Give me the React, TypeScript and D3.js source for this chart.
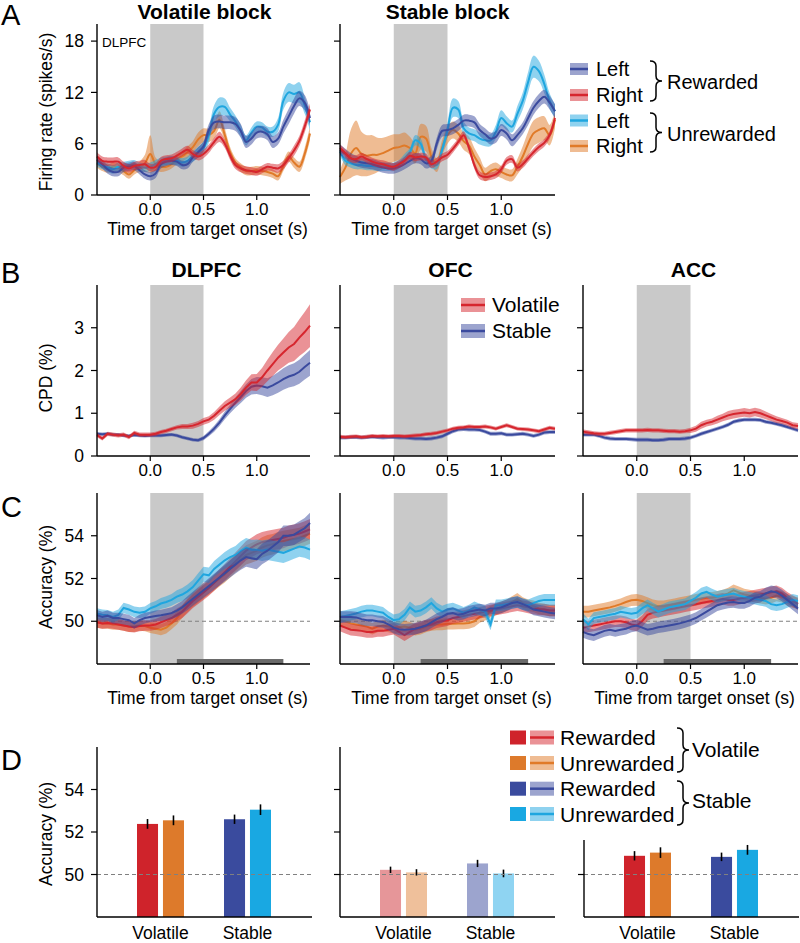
import React from "react";
import * as d3 from "d3";

const FONT = "'Liberation Sans', Arial, Helvetica, sans-serif";

const BLUE = "#3a4a9e";
const RED = "#d6262e";
const CYAN = "#1fa6df";
const ORANGE = "#e07a28";
const BAR_SOLID = ["#cf232b", "#dd7a2b", "#3a4b9e", "#19a8e2"];
const BAR_PALE = ["#e69699", "#efc09b", "#9ca4ce", "#8fd4f2"];

// sample times (s from target onset)
const times = [-0.5, -0.45, -0.4, -0.35, -0.3, -0.25, -0.2, -0.15, -0.1, -0.05, 0, 0.05, 0.1, 0.15, 0.2, 0.25, 0.3, 0.35, 0.4, 0.45, 0.5, 0.55, 0.6, 0.65, 0.7, 0.75, 0.8, 0.85, 0.9, 0.95, 1, 1.05, 1.1, 1.15, 1.2, 1.25, 1.3, 1.35, 1.4, 1.45, 1.5];

// ---- A: firing rate, volatile block ----
const volLeftRew = [4.1, 3.6, 3.0, 2.7, 2.7, 3.2, 3.3, 3.4, 2.9, 2.4, 2.2, 2.5, 3.6, 3.9, 4.0, 3.9, 3.5, 3.6, 4.4, 5.0, 5.7, 7.6, 8.5, 8.6, 8.5, 8.5, 8.3, 7.5, 6.2, 6.6, 7.3, 7.4, 7.1, 6.2, 6.6, 8.0, 9.2, 10.4, 11.3, 10.8, 9.0];
const volRightRew = [4.5, 4.0, 3.9, 3.9, 3.9, 3.4, 3.1, 3.4, 3.5, 3.6, 3.2, 3.3, 4.0, 4.2, 4.3, 4.6, 5.0, 5.3, 4.8, 4.5, 4.8, 5.4, 6.2, 6.8, 6.0, 4.6, 3.5, 3.1, 2.9, 2.8, 2.7, 3.0, 3.3, 3.2, 3.1, 3.5, 4.3, 5.2, 6.3, 8.0, 10.0];
const volLeftUnrew = [3.8, 3.5, 3.2, 3.0, 3.3, 3.4, 3.5, 3.6, 3.3, 3.2, 3.3, 3.6, 3.9, 4.0, 4.1, 4.0, 3.8, 4.0, 4.5, 5.0, 5.5, 7.0, 9.5, 10.3, 10.3, 9.4, 8.6, 7.5, 6.4, 7.3, 8.0, 7.9, 7.4, 7.4, 8.2, 11.0, 12.0, 11.8, 12.0, 10.5, 8.5];
const volRightUnrew = [3.7, 3.3, 3.1, 3.3, 3.2, 2.8, 2.4, 2.9, 3.3, 3.7, 4.8, 3.6, 3.3, 3.3, 3.6, 4.2, 4.5, 5.0, 5.6, 6.5, 7.0, 7.0, 7.5, 8.8, 7.0, 5.0, 3.8, 3.2, 2.8, 2.8, 2.9, 2.8, 2.7, 2.5, 2.2, 3.4, 4.5, 3.8, 3.3, 4.8, 7.2];
const semVolLeftRew = [0.5, 0.5, 0.5, 0.5, 0.5, 0.5, 0.5, 0.5, 0.5, 0.5, 0.5, 0.5, 0.5, 0.5, 0.5, 0.5, 0.5, 0.5, 0.5, 0.6, 0.6, 0.7, 0.8, 0.8, 0.8, 0.8, 0.8, 0.8, 0.7, 0.7, 0.7, 0.7, 0.7, 0.7, 0.7, 0.8, 0.9, 0.9, 0.9, 0.9, 0.9];
const semVolRightRew = [0.5, 0.5, 0.5, 0.5, 0.5, 0.5, 0.5, 0.5, 0.5, 0.5, 0.45, 0.45, 0.45, 0.45, 0.45, 0.45, 0.45, 0.45, 0.45, 0.45, 0.5, 0.5, 0.5, 0.6, 0.5, 0.5, 0.45, 0.45, 0.45, 0.45, 0.45, 0.45, 0.45, 0.45, 0.5, 0.5, 0.5, 0.6, 0.6, 0.7, 0.7];
const semVolLeftUnrew = [0.5, 0.5, 0.5, 0.5, 0.5, 0.5, 0.5, 0.5, 0.5, 0.5, 0.5, 0.5, 0.5, 0.5, 0.5, 0.5, 0.5, 0.5, 0.6, 0.6, 0.7, 0.9, 1.0, 1.1, 1.0, 0.8, 0.7, 0.7, 0.6, 0.6, 0.6, 0.6, 0.6, 0.6, 0.8, 1.0, 1.1, 1.1, 1.2, 1.0, 0.9];
const semVolRightUnrew = [0.5, 0.5, 0.5, 0.5, 0.5, 0.5, 0.5, 0.5, 0.6, 1.0, 2.2, 0.8, 0.6, 0.5, 0.5, 0.6, 0.6, 0.7, 0.7, 0.8, 0.8, 0.8, 0.9, 1.0, 0.8, 0.6, 0.5, 0.5, 0.5, 0.5, 0.5, 0.5, 0.5, 0.5, 0.5, 0.6, 0.6, 0.6, 0.6, 0.7, 0.8];

// ---- A: firing rate, stable block ----
const stbLeftRew = [5.3, 4.8, 4.3, 4.0, 3.8, 3.7, 3.6, 3.4, 3.2, 3.1, 3.1, 3.3, 3.6, 4.0, 4.3, 4.2, 3.7, 4.0, 6.0, 7.5, 7.6, 7.8, 8.2, 8.7, 8.7, 8.5, 7.6, 7.1, 6.6, 6.8, 7.6, 7.2, 6.4, 7.0, 7.8, 9.0, 10.2, 11.0, 11.5, 10.8, 9.8];
const stbRightRew = [5.5, 4.9, 4.3, 4.2, 4.5, 4.2, 3.9, 3.7, 3.6, 3.4, 3.3, 3.6, 4.0, 4.6, 4.4, 4.5, 4.4, 3.6, 3.9, 4.4, 4.7, 5.4, 6.2, 7.0, 5.5, 3.5, 2.3, 2.1, 2.2, 2.4, 3.0, 4.0, 4.2, 3.2, 3.6, 4.3, 5.0, 5.6, 6.1, 7.0, 9.0];
const stbLeftUnrew = [5.1, 4.0, 3.7, 3.5, 3.5, 3.4, 3.4, 3.3, 3.3, 3.3, 3.3, 3.6, 4.3, 5.0, 6.4, 6.0, 4.2, 3.6, 3.5, 5.3, 7.6, 10.2, 10.0, 7.8, 7.2, 7.0, 6.6, 6.4, 6.4, 7.4, 9.0, 8.4, 8.0, 9.5, 11.0, 13.2, 15.0, 14.5, 13.0, 11.0, 9.8];
const stbRightUnrew = [2.1, 3.2, 4.8, 5.5, 4.8, 4.6, 4.7, 4.7, 4.9, 5.2, 5.5, 5.6, 5.8, 5.5, 4.9, 6.8, 6.6, 4.5, 3.5, 5.5, 7.0, 7.6, 7.2, 6.3, 5.8, 4.5, 3.5, 2.4, 2.8, 3.0, 2.7, 2.4, 2.3, 3.3, 4.5, 6.0, 7.2, 7.6, 7.8, 7.0, 8.8];
const semStbLeftRew = [0.6, 0.6, 0.6, 0.6, 0.6, 0.6, 0.6, 0.6, 0.6, 0.6, 0.6, 0.6, 0.6, 0.6, 0.6, 0.6, 0.6, 0.6, 0.7, 0.7, 0.7, 0.7, 0.7, 0.7, 0.7, 0.7, 0.7, 0.7, 0.7, 0.7, 0.7, 0.7, 0.7, 0.7, 0.7, 0.8, 0.8, 0.8, 0.8, 0.8, 0.8];
const semStbRightRew = 0.45;
const semStbLeftUnrew = [0.5, 0.5, 0.5, 0.5, 0.5, 0.5, 0.5, 0.5, 0.5, 0.5, 0.5, 0.5, 0.5, 0.5, 0.6, 0.6, 0.5, 0.5, 0.5, 0.6, 0.8, 1.1, 1.0, 0.8, 0.7, 0.7, 0.7, 0.7, 0.7, 0.8, 0.9, 0.8, 0.7, 0.9, 1.0, 1.2, 1.3, 1.2, 1.1, 0.9, 0.8];
const semStbRightUnrew = [0.8, 1.5, 2.8, 3.2, 2.6, 2.4, 2.3, 2.0, 1.8, 1.7, 1.6, 1.5, 1.5, 1.3, 1.2, 1.5, 1.5, 1.0, 0.8, 0.9, 1.0, 1.0, 1.0, 1.0, 1.0, 1.0, 0.9, 0.8, 0.8, 0.8, 0.7, 0.7, 0.7, 0.9, 1.2, 1.4, 1.5, 1.5, 1.4, 1.2, 1.0];

// ---- B: CPD (%) ----
const cpdDlpfcVol = [0.49, 0.41, 0.52, 0.5, 0.48, 0.5, 0.44, 0.54, 0.5, 0.5, 0.5, 0.52, 0.56, 0.59, 0.63, 0.67, 0.69, 0.69, 0.71, 0.75, 0.81, 0.85, 0.94, 1.06, 1.17, 1.25, 1.33, 1.45, 1.6, 1.72, 1.72, 1.84, 2.0, 2.15, 2.3, 2.42, 2.54, 2.62, 2.77, 2.9, 3.05];
const cpdDlpfcStb = [0.52, 0.51, 0.52, 0.5, 0.5, 0.48, 0.47, 0.49, 0.48, 0.47, 0.48, 0.48, 0.48, 0.49, 0.5, 0.48, 0.44, 0.41, 0.38, 0.37, 0.42, 0.52, 0.64, 0.78, 0.95, 1.1, 1.25, 1.38, 1.52, 1.62, 1.65, 1.63, 1.6, 1.65, 1.72, 1.8, 1.86, 1.9, 1.97, 2.08, 2.18];
const semCpdDlpfcVol = [0.05, 0.05, 0.05, 0.05, 0.05, 0.05, 0.05, 0.05, 0.05, 0.05, 0.05, 0.05, 0.05, 0.05, 0.05, 0.05, 0.06, 0.06, 0.07, 0.07, 0.08, 0.08, 0.09, 0.1, 0.11, 0.12, 0.13, 0.15, 0.17, 0.19, 0.2, 0.22, 0.25, 0.28, 0.3, 0.33, 0.36, 0.4, 0.43, 0.47, 0.5];
const semCpdDlpfcStb = [0.04, 0.04, 0.04, 0.04, 0.04, 0.04, 0.04, 0.04, 0.04, 0.04, 0.04, 0.04, 0.04, 0.04, 0.04, 0.04, 0.04, 0.04, 0.04, 0.04, 0.05, 0.06, 0.07, 0.08, 0.09, 0.1, 0.12, 0.14, 0.16, 0.18, 0.2, 0.21, 0.22, 0.23, 0.24, 0.25, 0.26, 0.27, 0.28, 0.29, 0.3];
const cpdOfcVol = [0.45, 0.44, 0.45, 0.46, 0.44, 0.45, 0.47, 0.46, 0.47, 0.46, 0.47, 0.47, 0.46, 0.47, 0.48, 0.49, 0.51, 0.52, 0.54, 0.57, 0.6, 0.64, 0.66, 0.67, 0.69, 0.68, 0.68, 0.69, 0.67, 0.64, 0.68, 0.72, 0.68, 0.64, 0.63, 0.62, 0.6, 0.58, 0.62, 0.66, 0.64];
const cpdOfcStb = [0.43, 0.43, 0.44, 0.44, 0.43, 0.44, 0.45, 0.44, 0.43, 0.44, 0.44, 0.43, 0.43, 0.42, 0.41, 0.41, 0.4, 0.41, 0.43, 0.46, 0.52, 0.58, 0.62, 0.63, 0.62, 0.62, 0.61, 0.57, 0.52, 0.52, 0.53, 0.5, 0.5, 0.51, 0.52, 0.5, 0.47, 0.5, 0.55, 0.56, 0.56];
const semCpdOfc = 0.045;
const cpdAccVol = [0.57, 0.55, 0.53, 0.52, 0.52, 0.54, 0.56, 0.58, 0.6, 0.6, 0.6, 0.6, 0.61, 0.6, 0.6, 0.59, 0.58, 0.58, 0.57, 0.58, 0.6, 0.64, 0.72, 0.77, 0.8, 0.85, 0.9, 0.95, 0.98, 1.0, 1.02, 1.0, 1.03, 1.0, 0.95, 0.9, 0.85, 0.82, 0.78, 0.72, 0.7];
const cpdAccStb = [0.5, 0.5, 0.5, 0.47, 0.43, 0.41, 0.4, 0.4, 0.4, 0.39, 0.38, 0.38, 0.38, 0.37, 0.37, 0.38, 0.4, 0.4, 0.4, 0.41, 0.43, 0.47, 0.52, 0.56, 0.6, 0.64, 0.68, 0.73, 0.8, 0.83, 0.85, 0.85, 0.85, 0.84, 0.8, 0.78, 0.75, 0.72, 0.68, 0.64, 0.6];
const semCpdAccVol = [0.05, 0.05, 0.05, 0.05, 0.05, 0.05, 0.05, 0.05, 0.05, 0.05, 0.05, 0.05, 0.05, 0.05, 0.05, 0.05, 0.05, 0.05, 0.05, 0.05, 0.06, 0.07, 0.08, 0.08, 0.08, 0.09, 0.09, 0.1, 0.1, 0.1, 0.1, 0.1, 0.1, 0.1, 0.09, 0.08, 0.08, 0.07, 0.07, 0.07, 0.07];
const semCpdAccStb = 0.045;

// ---- C: decoding accuracy (%) ----
// DLPFC
const accDlpfcVolRew = [49.95, 49.9, 49.92, 49.9, 49.85, 49.8, 49.75, 49.72, 49.78, 49.8, 49.8, 49.85, 49.95, 50.05, 50.15, 50.3, 50.45, 50.7, 50.95, 51.15, 51.35, 51.55, 51.8, 52.05, 52.3, 52.55, 52.8, 53.05, 53.3, 53.45, 53.6, 53.7, 53.75, 53.8, 53.85, 53.9, 54.0, 54.05, 54.1, 54.2, 54.3];
const accDlpfcVolUnrew = [49.95, 49.9, 49.9, 49.85, 49.85, 49.8, 49.75, 49.75, 49.8, 49.78, 49.7, 49.65, 49.6, 49.7, 49.9, 50.15, 50.45, 50.75, 51.0, 51.2, 51.4, 51.6, 51.8, 52.0, 52.2, 52.45, 52.7, 52.9, 53.1, 53.2, 53.3, 53.45, 53.55, 53.6, 53.7, 53.75, 53.8, 53.85, 53.9, 54.0, 54.1];
const accDlpfcStbRew = [50.28, 50.2, 50.25, 50.15, 50.15, 50.1, 50.05, 49.9, 50.05, 50.15, 50.2, 50.25, 50.28, 50.33, 50.38, 50.5, 50.65, 50.85, 51.05, 51.25, 51.45, 51.65, 51.85, 52.05, 52.25, 52.45, 52.65, 52.85, 53.0, 52.95, 52.9, 53.15, 53.3, 53.5, 53.7, 54.0, 54.0, 54.05, 54.2, 54.35, 54.6];
const accDlpfcStbUnrew = [50.36, 50.3, 50.28, 50.2, 50.3, 50.62, 50.55, 50.44, 50.4, 50.44, 50.6, 50.7, 50.83, 50.9, 51.0, 51.15, 51.25, 51.4, 51.6, 51.9, 52.2, 52.15, 52.45, 52.65, 52.85, 53.0, 53.1, 53.3, 53.45, 53.35, 53.35, 53.3, 53.35, 53.3, 53.25, 53.2, 53.3, 53.4, 53.5, 53.45, 53.35];
const semAccDlpfc = [0.25, 0.25, 0.25, 0.25, 0.25, 0.25, 0.25, 0.25, 0.25, 0.25, 0.25, 0.25, 0.26, 0.27, 0.28, 0.3, 0.3, 0.32, 0.33, 0.34, 0.35, 0.36, 0.37, 0.38, 0.39, 0.4, 0.42, 0.44, 0.45, 0.46, 0.47, 0.48, 0.48, 0.48, 0.48, 0.48, 0.48, 0.48, 0.48, 0.48, 0.48];
// OFC
const accOfcVolRew = [49.8, 49.7, 49.6, 49.58, 49.55, 49.5, 49.5, 49.55, 49.55, 49.6, 49.65, 49.5, 49.35, 49.5, 49.65, 49.72, 49.8, 49.85, 49.95, 50.0, 50.05, 50.15, 50.2, 50.25, 50.3, 50.35, 50.4, 50.45, 50.5, 50.55, 50.6, 50.65, 50.7, 50.75, 50.7, 50.65, 50.6, 50.55, 50.55, 50.5, 50.5];
const accOfcVolUnrew = [50.05, 50.0, 49.9, 49.85, 49.8, 49.75, 49.65, 49.75, 49.8, 49.75, 49.7, 49.72, 49.75, 49.7, 49.6, 49.65, 49.75, 49.82, 49.85, 49.85, 49.88, 49.88, 49.9, 49.9, 49.92, 50.0, 50.2, 50.3, 50.45, 50.55, 50.65, 50.75, 50.9, 51.05, 50.85, 50.75, 50.7, 50.6, 50.55, 50.5, 50.5];
const accOfcStbRew = [50.2, 50.2, 50.2, 50.18, 50.1, 50.05, 50.05, 50.0, 49.97, 49.85, 49.7, 49.62, 49.6, 49.62, 49.65, 49.72, 49.8, 49.95, 50.1, 50.2, 50.35, 50.38, 50.3, 50.35, 50.45, 50.5, 50.55, 50.5, 50.6, 50.6, 50.65, 50.75, 50.85, 50.9, 50.8, 50.7, 50.55, 50.5, 50.45, 50.4, 50.36];
const accOfcStbUnrew = [50.2, 50.25, 50.3, 50.36, 50.45, 50.5, 50.5, 50.45, 50.4, 50.2, 50.05, 50.1, 50.3, 50.65, 50.45, 50.5, 50.65, 50.85, 50.6, 50.45, 50.55, 50.6, 50.5, 50.4, 50.5, 50.65, 50.55, 50.45, 49.85, 50.75, 50.75, 50.8, 50.85, 50.9, 50.8, 50.75, 50.85, 50.95, 51.0, 51.0, 51.0];
// ACC
const accAccVolRew = [49.7, 49.75, 49.8, 49.85, 49.9, 49.95, 50.0, 50.0, 49.95, 49.85, 49.8, 50.0, 50.3, 50.4, 50.45, 50.5, 50.55, 50.6, 50.65, 50.7, 50.75, 50.8, 50.85, 50.9, 50.95, 51.0, 51.05, 51.0, 51.0, 51.05, 51.1, 51.15, 51.2, 51.25, 51.3, 51.35, 51.4, 51.3, 51.1, 50.95, 50.8];
const accAccVolUnrew = [50.45, 50.45, 50.5, 50.55, 50.6, 50.65, 50.72, 50.8, 50.9, 50.98, 51.0, 50.95, 50.85, 50.75, 50.7, 50.7, 50.75, 50.8, 50.85, 50.9, 50.95, 51.0, 51.05, 51.1, 51.1, 51.15, 51.2, 51.3, 51.45, 51.35, 51.25, 51.2, 51.15, 51.1, 51.05, 51.1, 51.2, 51.15, 51.0, 50.9, 50.85];
const accAccStbRew = [49.5, 49.4, 49.35, 49.45, 49.55, 49.6, 49.55, 49.6, 49.65, 49.75, 49.8, 49.7, 49.6, 49.65, 49.72, 49.75, 49.8, 49.85, 49.9, 49.97, 50.05, 50.15, 50.3, 50.45, 50.6, 50.75, 50.82, 50.88, 50.9, 50.85, 50.85, 50.95, 51.1, 51.15, 51.3, 51.4, 51.35, 51.2, 51.0, 50.8, 50.6];
const accAccStbUnrew = [50.1, 49.85, 50.15, 50.2, 50.25, 50.3, 50.35, 50.44, 50.4, 50.35, 50.4, 50.6, 50.75, 50.6, 50.45, 50.55, 50.65, 50.7, 50.75, 50.8, 50.95, 51.1, 51.3, 51.38, 51.25, 51.15, 51.2, 51.25, 51.3, 51.2, 51.15, 51.1, 51.05, 51.0, 50.95, 50.8, 50.75, 50.8, 50.9, 51.0, 50.95];
const semAccOther = 0.27;

const sigWindow: [number, number] = [0.25, 1.25];

// ---- D: mean accuracy in window ----
const groupNames = ["Volatile", "Stable"];
const condNames = ["Rewarded", "Unrewarded"];
const barDlpfc = [[52.38, 52.55], [52.6, 53.05]];
const errDlpfc = [[0.23, 0.23], [0.22, 0.25]];
const barOfc = [[50.22, 50.1], [50.52, 50.05]];
const errOfc = [[0.15, 0.15], [0.17, 0.18]];
const barAcc = [[50.88, 51.03], [50.83, 51.16]];
const errAcc = [[0.22, 0.25], [0.2, 0.23]];

type Series = { color: string; mean: number[]; sem: number | number[] };

const semAt = (s: Series, i: number) => (typeof s.sem === "number" ? s.sem : s.sem[i]);

const COLS: [number, number][] = [[97, 310], [340, 555], [583, 798]];
const TICK_FS = 17;

function TimePanel(props: {
  xr: [number, number];
  yr: [number, number];
  yDomain: [number, number];
  yTicks: number[];
  showYLabels: boolean;
  series: Series[];
  smooth?: boolean;
  chance?: number;
  sig?: [number, number];
  xTitle?: boolean;
}) {
  const { xr, yr, yDomain, yTicks, showYLabels, series, smooth, chance, sig, xTitle } = props;
  const x = d3.scaleLinear().domain([-0.5, 1.5]).range(xr);
  const y = d3.scaleLinear().domain(yDomain).range(yr);
  const curve = smooth ? d3.curveCatmullRom.alpha(0.5) : d3.curveLinear;
  const line = d3.line<number>().x((_, i) => x(times[i])).y((d) => y(d)).curve(curve);
  const band = (s: Series) =>
    d3
      .area<number>()
      .x((_, i) => x(times[i]))
      .y0((d, i) => y(d - semAt(s, i)))
      .y1((d, i) => y(d + semAt(s, i)))
      .curve(curve)(s.mean) || "";
  const fmt = d3.format(".1f");
  return (
    <g>
      <rect x={x(0)} y={yr[1]} width={x(0.5) - x(0)} height={yr[0] - yr[1]} fill="#c9c9c9" />
      {chance !== undefined && (
        <line x1={xr[0]} x2={xr[1]} y1={y(chance)} y2={y(chance)} stroke="#808080" strokeWidth={1.2} strokeDasharray="4 3" />
      )}
      {series.map((s, k) => (
        <g key={k}>
          <path d={band(s)} fill={s.color} fillOpacity={0.5} />
          <path d={line(s.mean) || ""} fill="none" stroke={s.color} strokeWidth={2} />
        </g>
      ))}
      {sig && <rect x={x(sig[0])} y={yr[0] - 5} width={x(sig[1]) - x(sig[0])} height={5} fill="#6a6a6a" />}
      <line x1={xr[0]} x2={xr[0]} y1={yr[1]} y2={yr[0]} stroke="#000" strokeWidth={1.4} />
      <line x1={xr[0]} x2={xr[1]} y1={yr[0]} y2={yr[0]} stroke="#000" strokeWidth={1.4} />
      {yTicks.map((v) => (
        <g key={v}>
          <line x1={xr[0] - 6} x2={xr[0]} y1={y(v)} y2={y(v)} stroke="#000" strokeWidth={1.2} />
          {showYLabels && (
            <text x={xr[0] - 13} y={y(v)} dy="0.35em" textAnchor="end" fontSize={17.5}>
              {v}
            </text>
          )}
        </g>
      ))}
      {[0, 0.5, 1].map((v) => (
        <g key={v}>
          <line x1={x(v)} x2={x(v)} y1={yr[0]} y2={yr[0] + 5} stroke="#000" strokeWidth={1.2} />
          <text x={x(v)} y={yr[0] + 20} textAnchor="middle" fontSize={TICK_FS}>
            {fmt(v)}
          </text>
        </g>
      ))}
      {xTitle && (
        <text x={(xr[0] + xr[1]) / 2 + 4} y={yr[0] + 39.5} textAnchor="middle" fontSize={TICK_FS + 0.5}>
          Time from target onset (s)
        </text>
      )}
    </g>
  );
}

function BarPanel(props: {
  x0: number;
  axisTop: number;
  values: number[][];
  errs: number[][];
  colors: string[];
  showYLabels: boolean;
}) {
  const { x0, axisTop, values, errs, colors, showYLabels } = props;
  const bottom = 917;
  const y = d3.scaleLinear().domain([48, 56]).range([bottom, 747]);
  const gx = d3.scaleBand().domain(groupNames).range([x0 + 40, x0 + 174]).paddingInner(0.46);
  const cx = d3.scaleBand().domain(condNames).range([0, gx.bandwidth()]).paddingInner(0.19);
  const ticks = [50, 52, 54].filter((v) => y(v) >= axisTop);
  return (
    <g>
      {groupNames.map((g, gi) =>
        condNames.map((c, ci) => {
          const bx = (gx(g) || 0) + (cx(c) || 0);
          const v = values[gi][ci];
          const e = errs[gi][ci];
          return (
            <g key={g + c}>
              <rect x={bx} y={y(v)} width={cx.bandwidth()} height={bottom - y(v)} fill={colors[gi * 2 + ci]} />
              <line x1={bx + cx.bandwidth() / 2} x2={bx + cx.bandwidth() / 2} y1={y(v - e)} y2={y(v + e)} stroke="#000" strokeWidth={1.6} />
            </g>
          );
        })
      )}
      <line x1={x0} x2={x0 + 215} y1={y(50)} y2={y(50)} stroke="#808080" strokeWidth={1.2} strokeDasharray="4 3" />
      <line x1={x0} x2={x0} y1={axisTop} y2={bottom} stroke="#000" strokeWidth={1.4} />
      <line x1={x0} x2={x0 + 215} y1={bottom} y2={bottom} stroke="#000" strokeWidth={1.4} />
      {ticks.map((v) => (
        <g key={v}>
          <line x1={x0 - 6} x2={x0} y1={y(v)} y2={y(v)} stroke="#000" strokeWidth={1.2} />
          {showYLabels && (
            <text x={x0 - 13} y={y(v)} dy="0.35em" textAnchor="end" fontSize={17.5}>
              {v}
            </text>
          )}
        </g>
      ))}
      {groupNames.map((g) => (
        <text key={g} x={(gx(g) || 0) + gx.bandwidth() / 2} y={939} textAnchor="middle" fontSize={17.5}>
          {g}
        </text>
      ))}
    </g>
  );
}

function bracePath(x: number, y1: number, y2: number, w: number) {
  const ym = (y1 + y2) / 2;
  const h = w / 2;
  const q = 5;
  return `M${x},${y1} Q${x + h},${y1} ${x + h},${y1 + q} L${x + h},${ym - q} Q${x + h},${ym} ${x + w},${ym} Q${x + h},${ym} ${x + h},${ym + q} L${x + h},${y2 - q} Q${x + h},${y2} ${x},${y2}`;
}

function Swatch({ x, cy, w, h, color }: { x: number; cy: number; w: number; h: number; color: string }) {
  return (
    <g>
      <rect x={x} y={cy - h / 2} width={w} height={h} fill={color} fillOpacity={0.5} />
      <line x1={x} x2={x + w} y1={cy} y2={cy} stroke={color} strokeWidth={2.5} />
    </g>
  );
}

function YTitle({ cy, text }: { cy: number; text: string }) {
  return (
    <text transform={`translate(52,${cy}) rotate(-90)`} textAnchor="middle" fontSize={17.5}>
      {text}
    </text>
  );
}

export default function App() {
  const aY: [number, number] = [195, 24];
  const bY: [number, number] = [456, 285];
  const cY: [number, number] = [664, 493];

  const aVol: Series[] = [
    { color: ORANGE, mean: volRightUnrew, sem: semVolRightUnrew },
    { color: CYAN, mean: volLeftUnrew, sem: semVolLeftUnrew },
    { color: BLUE, mean: volLeftRew, sem: semVolLeftRew },
    { color: RED, mean: volRightRew, sem: semVolRightRew },
  ];
  const aStb: Series[] = [
    { color: ORANGE, mean: stbRightUnrew, sem: semStbRightUnrew },
    { color: CYAN, mean: stbLeftUnrew, sem: semStbLeftUnrew },
    { color: BLUE, mean: stbLeftRew, sem: semStbLeftRew },
    { color: RED, mean: stbRightRew, sem: semStbRightRew },
  ];
  const bSeries: Series[][] = [
    [
      { color: BLUE, mean: cpdDlpfcStb, sem: semCpdDlpfcStb },
      { color: RED, mean: cpdDlpfcVol, sem: semCpdDlpfcVol },
    ],
    [
      { color: BLUE, mean: cpdOfcStb, sem: semCpdOfc },
      { color: RED, mean: cpdOfcVol, sem: semCpdOfc },
    ],
    [
      { color: BLUE, mean: cpdAccStb, sem: semCpdAccStb },
      { color: RED, mean: cpdAccVol, sem: semCpdAccVol },
    ],
  ];
  const cSeries: Series[][] = [
    [
      { color: ORANGE, mean: accDlpfcVolUnrew, sem: semAccDlpfc },
      { color: RED, mean: accDlpfcVolRew, sem: semAccDlpfc },
      { color: CYAN, mean: accDlpfcStbUnrew, sem: semAccDlpfc },
      { color: BLUE, mean: accDlpfcStbRew, sem: semAccDlpfc },
    ],
    [
      { color: ORANGE, mean: accOfcVolUnrew, sem: semAccOther },
      { color: RED, mean: accOfcVolRew, sem: semAccOther },
      { color: CYAN, mean: accOfcStbUnrew, sem: semAccOther },
      { color: BLUE, mean: accOfcStbRew, sem: semAccOther },
    ],
    [
      { color: ORANGE, mean: accAccVolUnrew, sem: semAccOther },
      { color: RED, mean: accAccVolRew, sem: semAccOther },
      { color: CYAN, mean: accAccStbUnrew, sem: semAccOther },
      { color: BLUE, mean: accAccStbRew, sem: semAccOther },
    ],
  ];
  const regions = ["DLPFC", "OFC", "ACC"];
  const legendA = [
    { label: "Left", color: BLUE, cy: 69 },
    { label: "Right", color: RED, cy: 95 },
    { label: "Left", color: CYAN, cy: 120.5 },
    { label: "Right", color: ORANGE, cy: 146 },
  ];
  const legendD = [
    { label: "Rewarded", solid: BAR_SOLID[0], color: RED, cy: 737.5 },
    { label: "Unrewarded", solid: BAR_SOLID[1], color: ORANGE, cy: 763 },
    { label: "Rewarded", solid: BAR_SOLID[2], color: BLUE, cy: 788.7 },
    { label: "Unrewarded", solid: BAR_SOLID[3], color: CYAN, cy: 814 },
  ];

  return (
    <svg width={800} height={943} style={{ position: "absolute", left: 0, top: 0, background: "#fff" }} fontFamily={FONT}>
      <rect width={800} height={943} fill="#fff" />
      {/* panel letters */}
      <text x={1} y={25} fontSize={29}>A</text>
      <text x={1} y={283} fontSize={29}>B</text>
      <text x={1} y={517} fontSize={29}>C</text>
      <text x={1} y={770} fontSize={29}>D</text>

      {/* A */}
      <text x={204.5} y={19} textAnchor="middle" fontSize={21} fontWeight="bold">Volatile block</text>
      <text x={447.5} y={19} textAnchor="middle" fontSize={21} fontWeight="bold">Stable block</text>
      <TimePanel xr={COLS[0]} yr={aY} yDomain={[0, 20]} yTicks={[0, 6, 12, 18]} showYLabels series={aVol} smooth xTitle />
      <TimePanel xr={COLS[1]} yr={aY} yDomain={[0, 20]} yTicks={[0, 6, 12, 18]} showYLabels={false} series={aStb} smooth xTitle />
      <text x={102} y={47} fontSize={13.5}>DLPFC</text>
      <YTitle cy={112} text="Firing rate (spikes/s)" />
      {legendA.map((d, i) => (
        <g key={i}>
          <Swatch x={570} cy={d.cy} w={18} h={12} color={d.color} />
          <text x={596} y={d.cy + 7} fontSize={20}>{d.label}</text>
        </g>
      ))}
      <path d={bracePath(650, 61, 101, 12)} fill="none" stroke="#000" strokeWidth={1.5} />
      <path d={bracePath(650, 113, 152, 12)} fill="none" stroke="#000" strokeWidth={1.5} />
      <text x={667} y={89} fontSize={20}>Rewarded</text>
      <text x={667} y={141} fontSize={20}>Unrewarded</text>

      {/* B */}
      {regions.map((r, i) => (
        <text key={r} x={(COLS[i][0] + COLS[i][1]) / 2 + 3} y={277} textAnchor="middle" fontSize={21} fontWeight="bold">
          {r}
        </text>
      ))}
      {bSeries.map((s, i) => (
        <TimePanel key={i} xr={COLS[i]} yr={bY} yDomain={[0, 4]} yTicks={[0, 1, 2, 3]} showYLabels={i === 0} series={s} />
      ))}
      <YTitle cy={378} text="CPD (%)" />
      <Swatch x={461} cy={305} w={24} h={14} color={RED} />
      <Swatch x={461} cy={331} w={24} h={14} color={BLUE} />
      <text x={492} y={312} fontSize={21}>Volatile</text>
      <text x={492} y={338} fontSize={21}>Stable</text>

      {/* C */}
      {cSeries.map((s, i) => (
        <TimePanel key={i} xr={COLS[i]} yr={cY} yDomain={[48, 56]} yTicks={[50, 52, 54]} showYLabels={i === 0} series={s} chance={50} sig={sigWindow} xTitle />
      ))}
      <YTitle cy={577} text="Accuracy (%)" />

      {/* D */}
      <BarPanel x0={97} axisTop={747} values={barDlpfc} errs={errDlpfc} colors={BAR_SOLID} showYLabels />
      <BarPanel x0={340} axisTop={747} values={barOfc} errs={errOfc} colors={BAR_PALE} showYLabels={false} />
      <BarPanel x0={584} axisTop={840} values={barAcc} errs={errAcc} colors={BAR_SOLID} showYLabels={false} />
      <YTitle cy={834} text="Accuracy (%)" />
      {legendD.map((d, i) => (
        <g key={i}>
          <rect x={510} y={d.cy - 7} width={16} height={14} fill={d.solid} />
          <Swatch x={530} cy={d.cy} w={24} h={14} color={d.color} />
          <text x={560} y={d.cy + 7.5} fontSize={21}>{d.label}</text>
        </g>
      ))}
      <path d={bracePath(677, 728, 772, 12)} fill="none" stroke="#000" strokeWidth={1.5} />
      <path d={bracePath(677, 781, 825, 12)} fill="none" stroke="#000" strokeWidth={1.5} />
      <text x={692} y={757} fontSize={21}>Volatile</text>
      <text x={692} y={808} fontSize={21}>Stable</text>
    </svg>
  );
}
